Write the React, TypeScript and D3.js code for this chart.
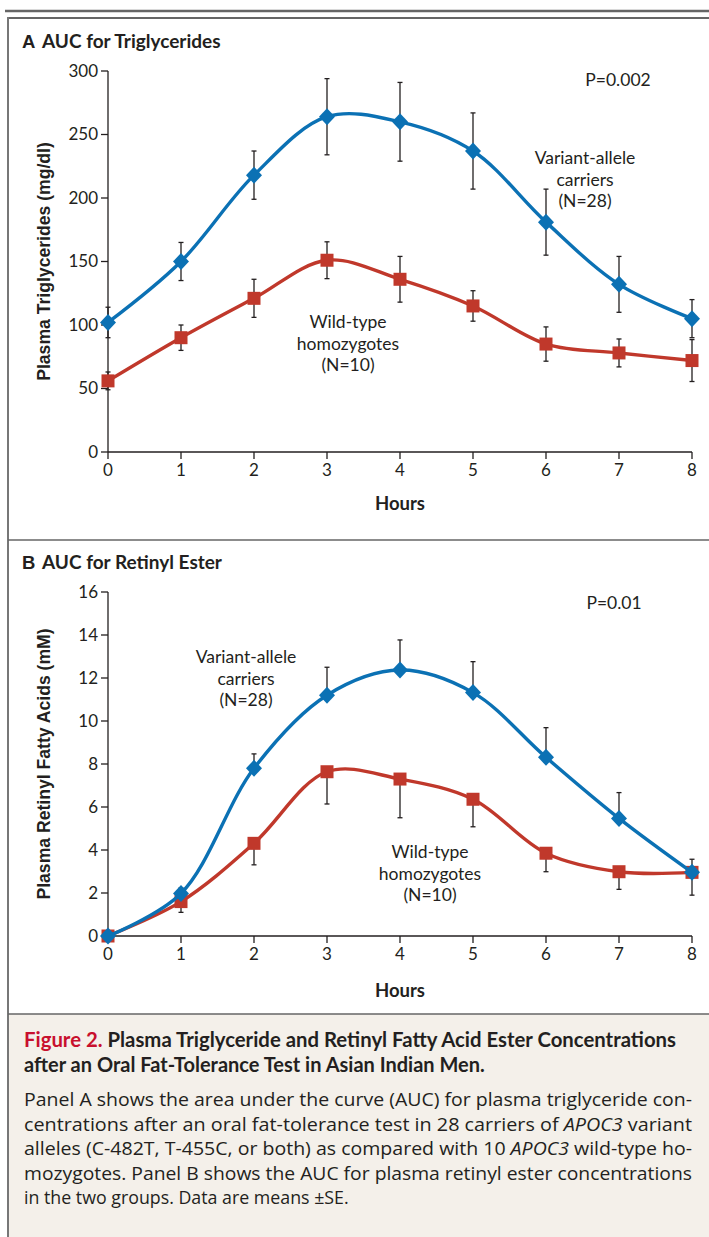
import React from "react";
import * as d3 from "d3";

const hours = [0, 1, 2, 3, 4, 5, 6, 7, 8];
const tgVariant = [102, 150, 218, 264, 260, 237, 181, 132, 105];
const tgVariantSE = [12, 15, 19, 30, 31, 30, 26, 22, 15];
const tgWild = [56, 90, 121, 151, 136, 115, 85, 78, 72];
const tgWildSE = [7, 10, 15, 14.5, 18, 12, 13.5, 11, 16.5];
const reVariant = [0, 1.98, 7.8, 11.2, 12.37, 11.32, 8.31, 5.47, 2.96];
const reVariantSE = [0, 0.25, 0.67, 1.3, 1.4, 1.44, 1.38, 1.2, 0.61];
const reWild = [0, 1.6, 4.31, 7.64, 7.3, 6.36, 3.85, 2.99, 2.96];
const reWildSE = [0, 0.5, 1.0, 1.5, 1.8, 1.28, 0.86, 0.82, 1.06];
const tgTicks = [0, 50, 100, 150, 200, 250, 300];
const reTicks = [0, 2, 4, 6, 8, 10, 12, 14, 16];

const BLUE = "#0b71b4";
const RED = "#c0382b";
const INK = "#231f20";
const COND = "Lato, sans-serif";
const SANS = "Lato, 'Open Sans', sans-serif";
const ARIAL = "'Liberation Sans', Arial, sans-serif";

type PanelProps = {
  letter: string;
  title: string;
  top: number;
  yDomain: [number, number];
  yRange: [number, number];
  yTicks: number[];
  yLabel: string;
  variant: number[];
  variantSE: number[];
  wild: number[];
  wildSE: number[];
  bothWays: boolean;
  pText: string;
  pPos: [number, number];
  vPos: [number, number];
  wPos: [number, number];
  hoursY: number;
};

function Panel(p: PanelProps) {
  const x = d3.scaleLinear().domain([0, 8]).range([108, 692]);
  const y = d3.scaleLinear().domain(p.yDomain).range(p.yRange);
  const line = d3
    .line<number>()
    .x((_, i) => x(hours[i]))
    .y((d) => y(d))
    .curve(d3.curveCatmullRom.alpha(0.5));
  const y0 = p.yRange[0];
  const yTop = p.yRange[1];
  const cx = (p.yRange[0] + p.yRange[1]) / 2;

  const errBars = (vals: number[], se: number[], dir: number) =>
    vals.map((v, i) => {
      if (se[i] <= 0) return null;
      const hi = p.bothWays ? v + se[i] : dir > 0 ? v + se[i] : v;
      const lo = p.bothWays ? v - se[i] : dir > 0 ? v : v - se[i];
      const xi = x(hours[i]);
      return (
        <g key={i} stroke={INK} strokeWidth={1.3}>
          <line x1={xi} x2={xi} y1={y(hi)} y2={y(lo)} />
          {(p.bothWays || dir > 0) && <line x1={xi - 2.5} x2={xi + 2.5} y1={y(hi)} y2={y(hi)} />}
          {(p.bothWays || dir < 0) && <line x1={xi - 2.5} x2={xi + 2.5} y1={y(lo)} y2={y(lo)} />}
        </g>
      );
    });

  const label = (lines: string[], pos: [number, number]) => (
    <text x={pos[0]} y={pos[1]} textAnchor="middle" fontFamily={SANS} fontSize={17.5} fill={INK}>
      {lines.map((l, i) => (
        <tspan key={i} x={pos[0]} dy={i === 0 ? 0 : 21.5}>
          {l}
        </tspan>
      ))}
    </text>
  );

  return (
    <g>
      <text x={22} y={p.top} fontFamily={ARIAL} fontWeight="bold" fontSize={18.5} fill={INK}>
        {p.letter}
      </text>
      <text x={42} y={p.top} fontFamily={COND} fontWeight="bold" fontSize={19} fill={INK}>
        {p.title}
      </text>
      {/* y axis */}
      <line x1={108} x2={108} y1={yTop} y2={y0} stroke={INK} strokeWidth={1.3} />
      {p.yTicks.map((t) => (
        <g key={t}>
          <line x1={101} x2={108} y1={y(t)} y2={y(t)} stroke={INK} strokeWidth={1.3} />
          <text x={98} y={y(t)} dy="0.35em" textAnchor="end" fontFamily={COND} fontSize={17} fill={INK}>
            {t}
          </text>
        </g>
      ))}
      {/* x axis */}
      <line x1={108} x2={692} y1={y0} y2={y0} stroke={INK} strokeWidth={1.3} />
      {hours.map((h) => (
        <g key={h}>
          <line x1={x(h)} x2={x(h)} y1={y0} y2={y0 + 7} stroke={INK} strokeWidth={1.3} />
          <text x={x(h)} y={y0 + 24} textAnchor="middle" fontFamily={COND} fontSize={17} fill={INK}>
            {h}
          </text>
        </g>
      ))}
      <text x={400} y={p.hoursY} textAnchor="middle" fontFamily={COND} fontWeight="bold" fontSize={18.5} fill={INK}>
        Hours
      </text>
      <text
        transform={`translate(50,${cx}) rotate(-90)`}
        textAnchor="middle"
        fontFamily={ARIAL}
        fontWeight="bold"
        fontSize={17.6}
        fill={INK}
      >
        {p.yLabel}
      </text>
      {errBars(p.wild, p.wildSE, -1)}
      {errBars(p.variant, p.variantSE, 1)}
      <path d={line(p.wild) || ""} fill="none" stroke={RED} strokeWidth={3.4} />
      {p.wild.map((v, i) => (
        <rect key={i} x={x(hours[i]) - 6.5} y={y(v) - 6.5} width={13} height={13} fill={RED} />
      ))}
      <path d={line(p.variant) || ""} fill="none" stroke={BLUE} strokeWidth={3.4} />
      {p.variant.map((v, i) => (
        <path
          key={i}
          d={`M${x(hours[i])},${y(v) - 8.5}L${x(hours[i]) + 8},${y(v)}L${x(hours[i])},${y(v) + 8.5}L${x(hours[i]) - 8},${y(v)}Z`}
          fill={BLUE}
        />
      ))}
      <text x={p.pPos[0]} y={p.pPos[1]} textAnchor="middle" fontFamily={SANS} fontSize={17.5} fill={INK}>
        {p.pText}
      </text>
      {label(["Variant-allele", "carriers", "(N=28)"], p.vPos)}
      {label(["Wild-type", "homozygotes", "(N=10)"], p.wPos)}
    </g>
  );
}

const captionBody: { parts: [string, boolean][]; justify: boolean }[] = [
  { parts: [["Panel A shows the area under the curve (AUC) for plasma triglyceride con-", false]], justify: true },
  {
    parts: [
      ["centrations after an oral fat-tolerance test in 28 carriers of ", false],
      ["APOC3", true],
      [" variant", false],
    ],
    justify: true,
  },
  {
    parts: [
      ["alleles (C-482T, T-455C, or both) as compared with 10 ", false],
      ["APOC3", true],
      [" wild-type ho-", false],
    ],
    justify: true,
  },
  { parts: [["mozygotes. Panel B shows the AUC for plasma retinyl ester concentrations", false]], justify: true },
  { parts: [["in the two groups. Data are means \u00b1SE.", false]], justify: false },
];

export default function App() {
  return (
    <svg
      width={709}
      height={1237}
      style={{ position: "absolute", left: 0, top: 0, background: "#fff" }}
    >
      <rect x={0} y={0} width={709} height={1237} fill="#fff" />
      <rect x={8} y={1014} width={701} height={223} fill="#f4f0ea" />
      <line x1={5} x2={709} y1={11} y2={11} stroke="#666" strokeWidth={2.5} />
      <line x1={8} x2={709} y1={18} y2={18} stroke="#666" strokeWidth={2} />
      <line x1={8} x2={8} y1={17} y2={1237} stroke="#777" strokeWidth={2} />
      <line x1={8} x2={709} y1={540} y2={540} stroke="#666" strokeWidth={1.5} />
      <line x1={8} x2={709} y1={1014} y2={1014} stroke="#666" strokeWidth={1.5} />

      <Panel
        letter="A"
        title="AUC for Triglycerides"
        top={48}
        yDomain={[0, 300]}
        yRange={[452, 71]}
        yTicks={tgTicks}
        yLabel="Plasma Triglycerides (mg/dl)"
        variant={tgVariant}
        variantSE={tgVariantSE}
        wild={tgWild}
        wildSE={tgWildSE}
        bothWays={true}
        pText="P=0.002"
        pPos={[618, 86]}
        vPos={[585, 164]}
        wPos={[348, 328]}
        hoursY={510}
      />
      <Panel
        letter="B"
        title="AUC for Retinyl Ester"
        top={569}
        yDomain={[0, 16]}
        yRange={[936, 592]}
        yTicks={reTicks}
        yLabel="Plasma Retinyl Fatty Acids (mM)"
        variant={reVariant}
        variantSE={reVariantSE}
        wild={reWild}
        wildSE={reWildSE}
        bothWays={false}
        pText="P=0.01"
        pPos={[614, 609]}
        vPos={[246, 663]}
        wPos={[430, 858]}
        hoursY={997}
      />

      <text x={24} y={1047} fontFamily={SANS} fontWeight="bold" fontSize={20} fill={INK} textLength={652} lengthAdjust="spacingAndGlyphs">
        <tspan fill="#c8102e">Figure 2.</tspan>
        <tspan> Plasma Triglyceride and Retinyl Fatty Acid Ester Concentrations</tspan>
      </text>
      <text x={24} y={1072} fontFamily={SANS} fontWeight="bold" fontSize={20} fill={INK}>
        after an Oral Fat-Tolerance Test in Asian Indian Men.
      </text>
      {captionBody.map((ln, i) => (
        <text
          key={i}
          x={24}
          y={1106 + i * 24.6}
          fontFamily="'Open Sans', Lato, sans-serif"
          fontSize={17.8}
          fill={INK}
          textLength={ln.justify ? 668 : undefined}
          lengthAdjust="spacingAndGlyphs"
        >
          {ln.parts.map((pt, j) => (
            <tspan key={j} fontStyle={pt[1] ? "italic" : "normal"}>
              {pt[0]}
            </tspan>
          ))}
        </text>
      ))}
    </svg>
  );
}
